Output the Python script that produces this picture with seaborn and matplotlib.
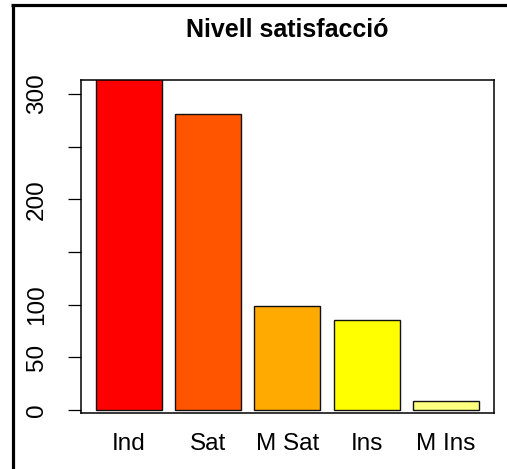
import matplotlib
matplotlib.use("Agg")
import matplotlib.pyplot as plt
import seaborn as sns
import pandas as pd
from matplotlib.lines import Line2D

categories = ["Ind", "Sat", "M Sat", "Ins", "M Ins"]
values = [315, 281, 99, 85, 9]
colors = ["#FF0000", "#FF5500", "#FFAA00", "#FFFF00", "#FFFF80"]
yticks = [0, 50, 100, 150, 200, 250, 300]
yticklabels = ["0", "50", "100", "", "200", "", "300"]
title = "Nivell satisfacció"

sns.set_theme(style="white")
plt.rcParams["font.family"] = ["Liberation Sans", "DejaVu Sans"]
plt.rcParams["text.color"] = "black"
plt.rcParams["xtick.color"] = "black"
plt.rcParams["ytick.color"] = "black"

W, H = 507, 469
fig = plt.figure(figsize=(W / 100, H / 100), dpi=100)
ax = fig.add_axes([80.7 / W, 1 - 413.3 / H, (494 - 80.7) / W, (413.3 - 80) / H])

df = pd.DataFrame({"cat": categories, "val": values})
sns.barplot(data=df, x="cat", y="val", hue="cat", palette=colors, legend=False,
            width=1 / 1.2, edgecolor="#111111", linewidth=1.0, saturation=1, ax=ax)

ax.set_xlim(-0.5 / 1.2 - 15.3 / 79.2, 4 + 0.5 / 1.2 + 15.3 / 79.2)
ax.set_ylim(-(413.3 - 410) / 1.0533, (410 - 80) / 1.0533)
ax.set_yticks(yticks)
ax.set_yticklabels(yticklabels, rotation=90, va="center", fontsize=17.5, color="black")
ax.tick_params(axis="y", left=True, length=9.4, width=0.9, color="black", pad=14)
ax.tick_params(axis="x", bottom=False, pad=8)
for lab in ax.get_xticklabels():
    lab.set_fontsize(17.5)
    lab.set_color("black")
ax.set_xlabel("")
ax.set_ylabel("")
for s in ax.spines.values():
    s.set_visible(True)
    s.set_color("black")
    s.set_linewidth(1.1)

fig.text(287 / W, 1 - 37 / H, title, ha="center", va="baseline",
         fontsize=18, fontweight="bold", color="black")

# outer frame lines (left and top visible)
fig.add_artist(Line2D([12.5 / W, 12.5 / W], [0, 1 - 5 / H], color="black", lw=2.3,
                      transform=fig.transFigure, solid_capstyle="butt"))
fig.add_artist(Line2D([11.4 / W, 1], [1 - 5 / H, 1 - 5 / H], color="black", lw=2.3,
                      transform=fig.transFigure, solid_capstyle="butt"))

fig.savefig("out.png", dpi=100)
